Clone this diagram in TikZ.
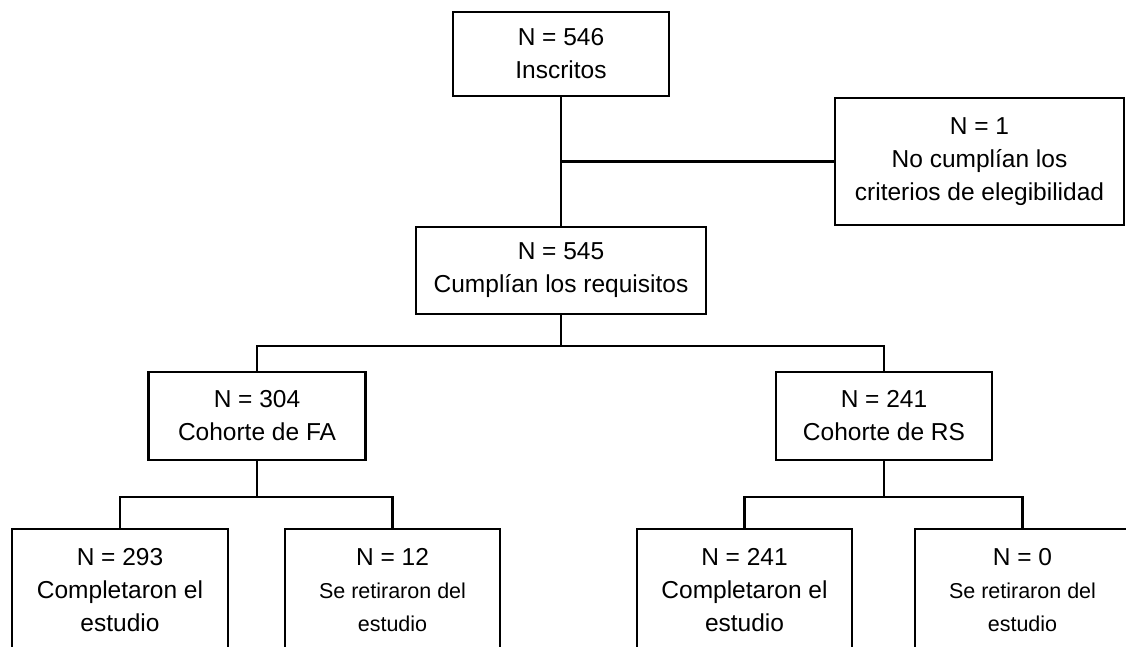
\documentclass[tikz,border=0pt]{standalone}
\usepackage{fontspec}
\setmainfont{Liberation Sans}
\newcommand{\smalltxt}{\fontsize{21.5}{31}\selectfont}
\tikzset{
  box/.style={draw, line width=2.6pt, align=center, inner sep=0pt,
    font=\fontsize{24.5}{33}\selectfont},
  link/.style={line width=2.6pt}
}
\begin{document}
\begin{tikzpicture}[x=1pt, y=-1pt]
  \useasboundingbox (0,0) rectangle (1126,647);
  % top part
  \node[box, minimum width=216pt, minimum height=84pt] (inscritos) at (561,54) {N = 546\\Inscritos};
  \node[box, minimum width=289pt, minimum height=127pt] (noelig) at (979.5,161.5) {N = 1\\No cumplían los\\criterios de elegibilidad};
  \node[box, minimum width=290pt, minimum height=87pt] (cumplian) at (561,270.5) {N = 545\\Cumplían los requisitos};
  \draw[link] (inscritos) -- (cumplian);
  \draw[link] (inscritos.south |- noelig.west) -- (noelig.west);
  % cohorts
  \node[box, minimum width=217pt, minimum height=88pt] (fa) at (257,416) {N = 304\\Cohorte de FA};
  \node[box, minimum width=216pt, minimum height=88pt] (rs) at (884,416) {N = 241\\Cohorte de RS};
  \coordinate (split) at (561,346);
  \draw[link] (cumplian.south) -- (split);
  \draw[link] (fa.north) |- (split) -| (rs.north);
  % outcomes
  \node[box, minimum width=216pt, minimum height=122pt] (facomp) at (120,590) {N = 293\\Completaron el\\estudio};
  \node[box, minimum width=215pt, minimum height=122pt] (faret) at (392.5,590) {N = 12\\\smalltxt Se retiraron del\\\smalltxt estudio};
  \node[box, minimum width=215pt, minimum height=122pt] (rscomp) at (744.5,590) {N = 241\\Completaron el\\estudio};
  \node[box, minimum width=215pt, minimum height=122pt] (rsret) at (1022.5,590) {N = 0\\\smalltxt Se retiraron del\\\smalltxt estudio};
  \coordinate (splitfa) at (257,497);
  \coordinate (splitrs) at (884,497);
  \draw[link] (fa.south) -- (splitfa);
  \draw[link] (facomp.north) |- (splitfa) -| (faret.north);
  \draw[link] (rs.south) -- (splitrs);
  \draw[link] (rscomp.north) |- (splitrs) -| (rsret.north);
\end{tikzpicture}
\end{document}
